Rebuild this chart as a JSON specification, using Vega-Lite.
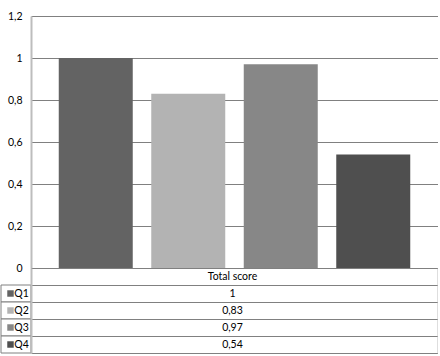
{
  "$schema": "https://vega.github.io/schema/vega-lite/v6.json",
  "padding": {"left": 0, "top": 10, "right": 0, "bottom": 0},
  "config": {
    "view": {"stroke": null},
    "font": "Lato",
    "locale": {"number": {"decimal": ",", "thousands": ".", "grouping": [3], "currency": ["", " €"]}}
  },
  "datasets": {
    "scores": [
      {"series": "Q1", "value": 1},
      {"series": "Q2", "value": 0.83},
      {"series": "Q3", "value": 0.97},
      {"series": "Q4", "value": 0.54}
    ]
  },
  "columns": 2,
  "bounds": "flush",
  "spacing": 0,
  "concat": [
    {
      "width": 30,
      "height": 252,
      "data": {"values": [{"h": ""}]},
      "mark": "text",
      "encoding": {
        "x": {"datum": 0, "type": "quantitative", "axis": null},
        "y": {"datum": 0, "type": "quantitative", "axis": null},
        "text": {"field": "h", "type": "nominal"}
      }
    },
    {
      "width": 407,
      "height": 252,
      "data": {"name": "scores"},
      "mark": {"type": "bar"},
      "encoding": {
        "x": {"field": "series", "type": "nominal", "axis": null, "scale": {"paddingInner": 0.2, "paddingOuter": 0.3}},
        "y": {
          "field": "value", "type": "quantitative",
          "scale": {"domain": [0, 1.2]},
          "axis": {"values": [0, 0.2, 0.4, 0.6, 0.8, 1, 1.2], "format": "~g", "title": null, "grid": true, "gridColor": "#808080", "tickSize": 0, "labelPadding": 9, "domainColor": "#bdbdbd", "domainWidth": 2, "labelFontSize": 10.5, "labelColor": "#000000"}
        },
        "color": {"field": "series", "type": "nominal", "scale": {"domain": ["Q1", "Q2", "Q3", "Q4"], "range": ["#636363", "#b3b3b3", "#878787", "#4f4f4f"]}, "legend": null}
      }
    },
    {
      "width": 30,
      "height": 85,
      "data": {"name": "scores"},
      "encoding": {
        "y": {"field": "series", "type": "nominal", "scale": {"domain": ["Total score", "Q1", "Q2", "Q3", "Q4"], "paddingInner": 0, "paddingOuter": 0}, "axis": null}
      },
      "layer": [
        {
          "mark": {"type": "rect", "fill": "#ffffff", "stroke": "#808080", "strokeWidth": 1},
          "encoding": {
            "x": {"datum": 0, "type": "quantitative", "scale": {"domain": [0, 30]}, "axis": null},
            "x2": {"datum": 30}
          }
        },
        {
          "mark": {"type": "point", "shape": "square", "filled": true, "size": 42, "opacity": 1},
          "encoding": {
            "x": {"datum": 9.5, "type": "quantitative"},
            "color": {"field": "series", "type": "nominal", "scale": {"domain": ["Q1", "Q2", "Q3", "Q4"], "range": ["#636363", "#b3b3b3", "#878787", "#4f4f4f"]}, "legend": null}
          }
        },
        {
          "mark": {"type": "text", "align": "left", "fontSize": 10.5, "color": "#000000"},
          "encoding": {
            "x": {"datum": 13.3, "type": "quantitative"},
            "text": {"field": "series", "type": "nominal"}
          }
        }
      ]
    },
    {
      "width": 407,
      "height": 85,
      "encoding": {
        "x": {"datum": 0.495, "type": "quantitative", "scale": {"domain": [0, 1]}, "axis": null}
      },
      "layer": [
        {
          "data": {"name": "scores"},
          "mark": {"type": "text", "fontSize": 10.5, "color": "#000000"},
          "encoding": {
            "y": {"field": "series", "type": "nominal", "scale": {"domain": ["Total score", "Q1", "Q2", "Q3", "Q4"], "paddingInner": 0, "paddingOuter": 0},
              "axis": {"grid": true, "tickBand": "extent", "labels": false, "ticks": false, "domain": true, "domainColor": "#bdbdbd", "domainWidth": 2, "gridColor": "#808080", "title": null}},
            "text": {"field": "value", "type": "quantitative", "format": "~g"}
          }
        },
        {
          "data": {"values": [{"h": "Total score"}]},
          "mark": {"type": "text", "fontSize": 10.5, "color": "#000000"},
          "encoding": {
            "y": {"field": "h", "type": "nominal", "axis": {"orient": "right", "grid": false, "labels": false, "ticks": false, "domainColor": "#bdbdbd", "domainWidth": 2, "title": null}},
            "text": {"field": "h", "type": "nominal"}
          }
        }
      ],
      "resolve": {"axis": {"y": "independent"}}
    }
  ]
}
